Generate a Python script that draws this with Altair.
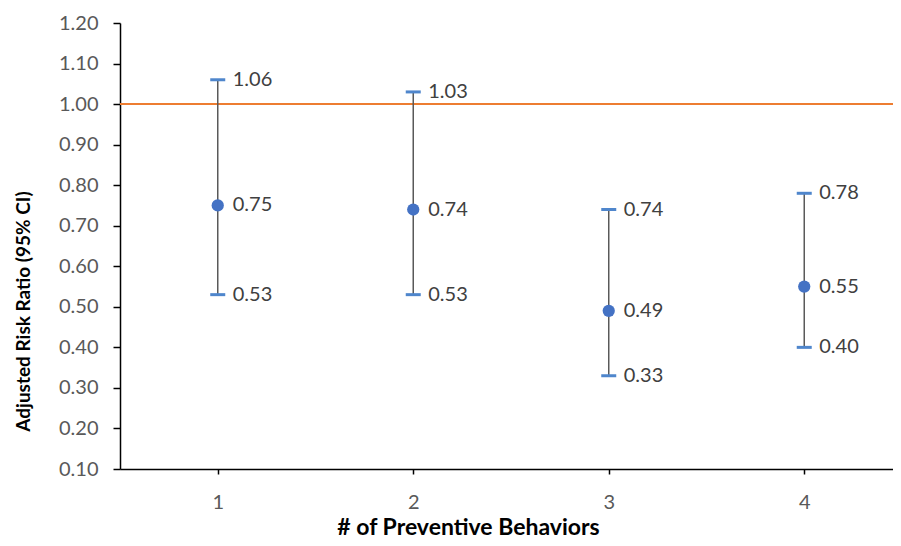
import altair as alt
import pandas as pd

behaviors = [1, 2, 3, 4]
risk_ratio = [0.75, 0.74, 0.49, 0.55]
ci_lower = [0.53, 0.53, 0.33, 0.40]
ci_upper = [1.06, 1.03, 0.74, 0.78]
y_ticks = [0.10, 0.20, 0.30, 0.40, 0.50, 0.60, 0.70, 0.80, 0.90, 1.00, 1.10, 1.20]
reference_value = [1.0]

df = pd.DataFrame({"n": behaviors, "rr": risk_ratio, "lo": ci_lower, "hi": ci_upper})
ref = pd.DataFrame({"ref": reference_value})

FONT = "Lato"

xscale = alt.Scale(domain=[0.5, 4.454], nice=False, zero=False)
yscale = alt.Scale(domain=[0.1, 1.2], nice=False, zero=False)

xaxis = alt.Axis(
    values=behaviors, format="d", title="# of Preventive Behaviors",
    grid=False, domainColor="#000000", domainWidth=1.5, tickColor="#000000",
    tickWidth=1.5, tickSize=5, labelPadding=18, labelFontSize=20,
    labelColor="#595959", labelFont=FONT, titleFont=FONT, titleFontSize=23,
    titleFontWeight="bold", titleColor="#000000", titleX=348, titleY=65,
    titleBaseline="alphabetic", titleAlign="center",
)
yaxis = alt.Axis(
    values=y_ticks, format=".2f", title="Adjusted Risk Ratio (95% CI)",
    grid=False, domainColor="#000000", domainWidth=1.5, tickColor="#000000",
    tickWidth=1.5, tickSize=7, labelPadding=15, labelFontSize=20,
    labelColor="#595959", labelFont=FONT, titleFont=FONT, titleFontSize=19,
    titleFontWeight="bold", titleColor="#000000", titleX=-97, titleY=288,
    titleAngle=270, titleBaseline="middle", titleAlign="center",
)

base = alt.Chart(df)

ref_line = alt.Chart(ref).mark_rule(color="#ED7D31", strokeWidth=2).encode(
    y=alt.Y("ref:Q", scale=yscale, axis=yaxis)
)

whisker = base.mark_rule(color="#595959", strokeWidth=1.5).encode(
    x=alt.X("n:Q", scale=xscale, axis=xaxis),
    y=alt.Y("lo:Q", scale=yscale, axis=yaxis),
    y2="hi:Q",
)

cap_hi = base.mark_tick(orient="horizontal", size=15, thickness=3, color="#4F86CC", opacity=1).encode(
    x=alt.X("n:Q", scale=xscale), y=alt.Y("hi:Q", scale=yscale)
)
cap_lo = base.mark_tick(orient="horizontal", size=15, thickness=3, color="#4F86CC", opacity=1).encode(
    x=alt.X("n:Q", scale=xscale), y=alt.Y("lo:Q", scale=yscale)
)

pts = base.mark_circle(size=150, color="#4472C4", opacity=1).encode(
    x=alt.X("n:Q", scale=xscale), y=alt.Y("rr:Q", scale=yscale)
)

def labels(field):
    return base.mark_text(
        align="left", baseline="middle", dx=15, fontSize=20, font=FONT, color="#404040"
    ).encode(
        x=alt.X("n:Q", scale=xscale),
        y=alt.Y(f"{field}:Q", scale=yscale),
        text=alt.Text(f"{field}:Q", format=".2f"),
    )

chart = alt.layer(
    ref_line, whisker, cap_hi, cap_lo, pts, labels("rr"), labels("hi"), labels("lo")
).properties(
    width=773, height=446,
    padding={"left": 112, "top": 15, "right": 0, "bottom": 69},
    autosize=alt.AutoSizeParams(type="none"),
    background="#FFFFFF",
).configure_view(stroke=None)

chart.save("out.html", embed_options={"renderer": "svg", "actions": False})
